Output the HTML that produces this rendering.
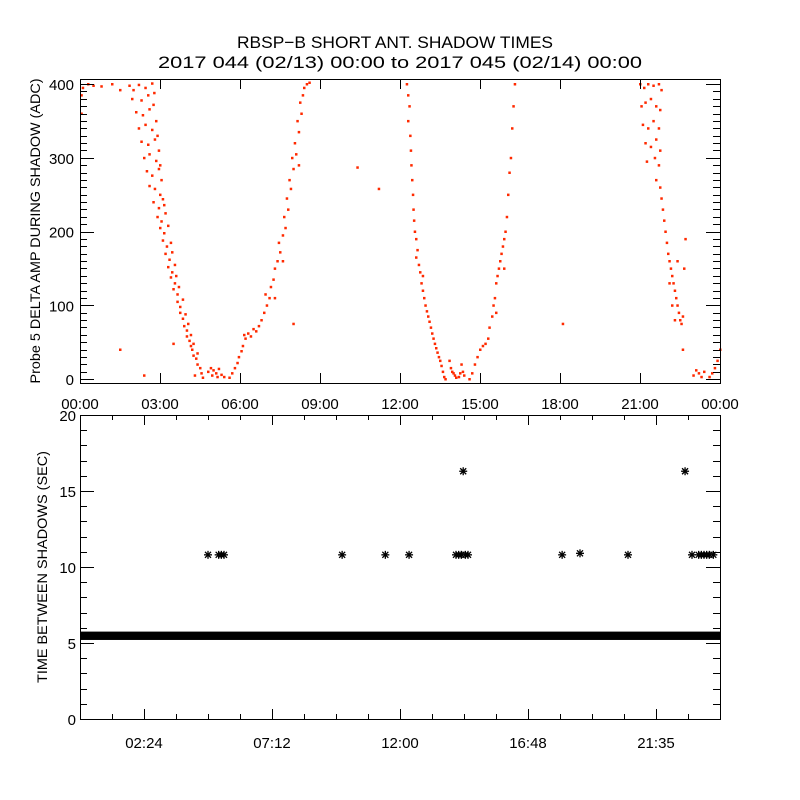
<!DOCTYPE html>
<html><head><meta charset="utf-8"><style>
html,body{margin:0;padding:0;background:#fff;}
svg{display:block;font-family:"Liberation Sans",sans-serif;}
</style></head><body>
<svg id="chart" width="800" height="800" viewBox="0 0 800 800" xmlns="http://www.w3.org/2000/svg">
<rect width="800" height="800" fill="#fff"/>
<text x="395" y="48" font-size="17" text-anchor="middle" textLength="316" lengthAdjust="spacingAndGlyphs">RBSP−B SHORT ANT. SHADOW TIMES</text>
<text x="400" y="68" font-size="17" text-anchor="middle" textLength="484" lengthAdjust="spacingAndGlyphs">2017 044 (02/13) 00:00 to 2017 045 (02/14) 00:00</text>
<g id="topPanel"></g>
<g id="botPanel"></g>
<text transform="translate(40,231) rotate(-90)" font-size="14" text-anchor="middle" textLength="305" lengthAdjust="spacingAndGlyphs">Probe 5 DELTA AMP DURING SHADOW (ADC)</text>
<text transform="translate(47,567) rotate(-90)" font-size="14" text-anchor="middle" textLength="232" lengthAdjust="spacingAndGlyphs">TIME BETWEEN SHADOWS (SEC)</text>
</svg>
<script>
const ampPoints = [
[1.85,398],[2.0,392],[2.2,399],[2.45,395],[2.7,401],[2.78,388],[1.95,380],[2.3,378],[2.55,385],[2.75,372],[2.1,362],[2.35,358],[2.6,366],[2.85,350],[2.2,340],[2.45,345],[2.7,338],[2.9,330],[2.3,322],[2.55,318],[2.8,325],[2.95,310],[2.4,300],[2.6,305],[2.85,296],[3.0,290],[2.5,282],[2.7,276],[2.95,285],[3.05,270],[2.6,262],[2.8,258],[3.0,250],[3.1,244],[2.75,240],[2.95,232],[3.15,236],[2.9,220],[3.05,214],[3.2,225],[3.0,205],[3.15,198],[3.3,208],[3.1,188],[3.25,180],[3.4,185],[3.2,170],[3.35,162],[3.45,172],[3.3,152],[3.45,145],[3.55,155],[3.4,138],[3.55,130],[3.6,140],[3.5,122],[3.65,115],[3.7,125],[3.65,105],[3.75,98],[3.85,108],[3.75,90],[3.85,82],[3.95,88],[3.9,72],[4.0,66],[4.05,75],[4.0,58],[4.1,52],[4.15,60],[4.15,45],[4.2,40],[4.25,48],[4.25,32],[4.35,28],[4.4,35],[4.4,20],[4.5,15],[4.55,8],[4.6,2],
[0.1,395],[0.3,400],[0.5,398],[0.05,385],[0.8,397],[1.2,400],[1.5,392],[0.05,360],[1.5,40],[2.4,5],[3.5,48],[4.3,5],[10.4,287],[11.2,258],[8.0,75],[18.1,75],
[4.8,10],[4.9,15],[5.0,12],[5.1,8],[5.2,14],[5.3,6],[5.4,3],[4.95,5],[5.15,3],
[5.6,2],[5.7,8],[5.8,15],[5.9,22],[5.95,30],[6.05,38],[6.1,45],[6.2,55],[6.3,62],[6.15,60],[6.4,58],[6.5,68],[6.6,65],[6.7,72],[6.8,80],[6.9,90],[7.0,100],[7.1,110],[6.95,115],[7.15,125],[7.25,135],[7.3,150],[7.4,160],[7.5,172],[7.45,185],[7.6,195],[7.7,205],[7.65,220],[7.8,230],[7.75,245],[7.9,258],[7.85,270],[8.0,285],[7.95,300],[8.1,305],[8.05,320],[8.2,335],[8.15,350],[8.3,360],[8.25,375],[8.35,385],[8.4,395],[8.5,400],[8.6,402],[8.2,290],[7.6,160],[7.3,110],
[12.25,400],[12.3,385],[12.35,370],[12.3,350],[12.38,330],[12.4,310],[12.42,290],[12.45,270],[12.48,250],[12.5,230],[12.52,215],[12.55,200],[12.6,190],[12.65,175],[12.6,165],[12.7,155],[12.75,145],[12.85,140],[12.8,130],[12.85,120],[12.9,110],[12.95,100],[13.0,92],[13.05,85],[13.1,78],[13.15,70],[13.2,62],[13.25,55],[13.3,48],[13.35,42],[13.4,36],[13.45,30],[13.5,25],[13.55,18],[13.6,10],[13.65,3],[13.7,0],
[13.85,25],[13.9,15],[13.95,10],[14.0,8],[14.05,5],[14.1,2],[14.2,3],[14.25,8],[14.3,20],[14.35,10],[14.4,5],
[14.6,0],[14.7,8],[14.8,20],[14.9,30],[15.0,40],[15.1,45],[15.2,48],[15.3,55],[15.35,70],[15.45,85],[15.5,100],[15.55,110],[15.6,130],[15.65,140],[15.7,150],[15.75,160],[15.8,170],[15.85,180],[15.9,190],[15.95,200],[16.0,220],[16.05,250],[16.1,280],[16.15,300],[16.2,340],[16.25,370],[16.3,400],[15.9,150],[15.6,90],
[21.0,400],[21.15,395],[21.3,400],[21.5,398],[21.7,400],[21.8,392],[21.05,370],[21.2,375],[21.4,380],[21.6,370],[21.75,365],[21.1,345],[21.3,340],[21.5,350],[21.7,340],[21.2,320],[21.4,315],[21.6,325],[21.75,310],[21.25,295],[21.55,300],[21.7,290],[21.6,270],[21.75,260],[21.8,245],[21.85,230],[21.9,215],[21.95,200],[22.0,185],[22.05,170],[22.1,160],[22.15,150],[22.2,140],[22.25,130],[22.3,120],[22.35,110],[22.4,100],[22.45,90],[22.5,80],[22.55,75],[22.6,85],[22.65,150],[22.7,190],[22.4,160],[22.1,130],[22.2,100],[22.3,80],[22.6,40],
[23.0,5],[23.1,12],[23.2,8],[23.3,3],[23.6,3],[23.7,8],[23.8,15],[23.9,25],[24.0,40],[23.4,10]
];
const outlierTimes = [4.8,5.2,5.3,5.4,9.83,11.45,12.34,14.1,14.2,14.3,14.45,14.55,14.37,18.08,18.75,20.55,22.69,22.95,23.2,23.3,23.4,23.5,23.6,23.75];
const outlierValues = [10.8,10.8,10.8,10.8,10.8,10.8,10.8,10.8,10.8,10.8,10.8,10.8,16.3,10.8,10.9,10.8,16.3,10.8,10.8,10.8,10.8,10.8,10.8,10.8];
const bandStart = [0];
const bandEnd = [24];
const bandLow = [5.2];
const bandHigh = [5.75];
const topXTicks = ["00:00","03:00","06:00","09:00","12:00","15:00","18:00","21:00","00:00"];
const topYTicks = ["0","100","200","300","400"];
const botXTicks = ["02:24","07:12","12:00","16:48","21:35"];
const botYTicks = ["0","5","10","15","20"];

const NS="http://www.w3.org/2000/svg";
const X0=80,X1=720;
const xs=h=>X0+(X1-X0)*h/24;
const ysTop=v=>379-v*0.7375;
const ysBot=v=>719-v*15.2;
function mk(tag,parent){const e=document.createElementNS(NS,tag);parent.appendChild(e);return e;}
const topG=document.getElementById('topPanel'), botG=document.getElementById('botPanel');

ampPoints.forEach(p=>{
  const r=mk('rect',topG);
  
  
  r.setAttribute('x',(xs(p[0])-1).toFixed(1));r.setAttribute('y',(ysTop(p[1])-1).toFixed(1));
  r.setAttribute('width','2.5');r.setAttribute('height','2.5');r.setAttribute('fill','#ff2a00');
});
// axis lines as filled rects (x0,y0)-(x1,y1) horizontal or vertical
function line(par,x1,y1,x2,y2,name){const r=mk('rect',par);
  
  
  const x=Math.min(x1,x2),y=Math.min(y1,y2);
  r.setAttribute('x',x);r.setAttribute('y',y);
  r.setAttribute('width',Math.max(Math.abs(x2-x1),1));r.setAttribute('height',Math.max(Math.abs(y2-y1),1));
  r.setAttribute('fill','#000');}
function txt(par,x,y,s,name,anchor){const t=mk('text',par);
  
  
  t.setAttribute('x',x);t.setAttribute('y',y);t.setAttribute('font-size','15');t.setAttribute('text-anchor',anchor);t.textContent=s;}
function frame(par,x0,y0,x1,y1,name){
  line(par,x0,y0,x1+1,y0,name);line(par,x0,y1,x1+1,y1,name);line(par,x0,y0,x0,y1,name);line(par,x1,y0,x1,y1,name);}
frame(topG,80,79,720,383,'top-plot-frame');
topXTicks.forEach((s,i)=>{const x=Math.round(xs(i*3));
  line(topG,x,373,x,383,'top-x-tick');line(topG,x,79,x,89,'top-x-tick-upper');
  txt(topG,xs(i*3),409,s,'top-x-tick-label','middle');});
for(let v=0;v<=400;v+=10){const y=Math.round(ysTop(v));const L=v%100===0?14:7;
  line(topG,80,y,80+L,y,'top-y-tick');line(topG,720-L,y,720,y,'top-y-tick-right');}
topYTicks.forEach(s=>txt(topG,74,ysTop(+s)+6,s,'top-y-tick-label','end'));

bandStart.forEach((b,i)=>{const r=mk('rect',botG);
  
  
  r.setAttribute('x',xs(b));r.setAttribute('width',xs(bandEnd[i])-xs(b));
  r.setAttribute('y',ysBot(bandHigh[i]));r.setAttribute('height',ysBot(bandLow[i])-ysBot(bandHigh[i]));r.setAttribute('fill','#000');});
outlierTimes.forEach((t,i)=>{const g=mk('g',botG);
  
  
  const cx=xs(t),cy=ysBot(outlierValues[i]);
  [[-4,0,4,0],[0,-4,0,4],[-3,-3,3,3],[-3,3,3,-3]].forEach(d=>{const l=mk('line',g);
    l.setAttribute('x1',cx+d[0]);l.setAttribute('y1',cy+d[1]);l.setAttribute('x2',cx+d[2]);l.setAttribute('y2',cy+d[3]);l.setAttribute('stroke','#000');l.setAttribute('stroke-width','1.3');});
});
frame(botG,80,415,720,719,'bottom-plot-frame');
for(let k=1;k<20;k++){const h=k*1.2;const x=Math.round(xs(h));const L=k%4===2?10:5;
  line(botG,x,719-L,x,719,'bottom-x-tick');line(botG,x,415,x,415+L,'bottom-x-tick-upper');}
botXTicks.forEach((s,i)=>txt(botG,xs(2.4+i*4.8),748,s,'bottom-x-tick-label','middle'));
for(let v=0;v<=20;v++){const y=Math.round(ysBot(v));const L=v%5===0?14:7;
  line(botG,80,y,80+L,y,'bottom-y-tick');line(botG,720-L,y,720,y,'bottom-y-tick-right');}
botYTicks.forEach(s=>txt(botG,76,ysBot(+s)+6,s,'bottom-y-tick-label','end'));
</script>
</body></html>
